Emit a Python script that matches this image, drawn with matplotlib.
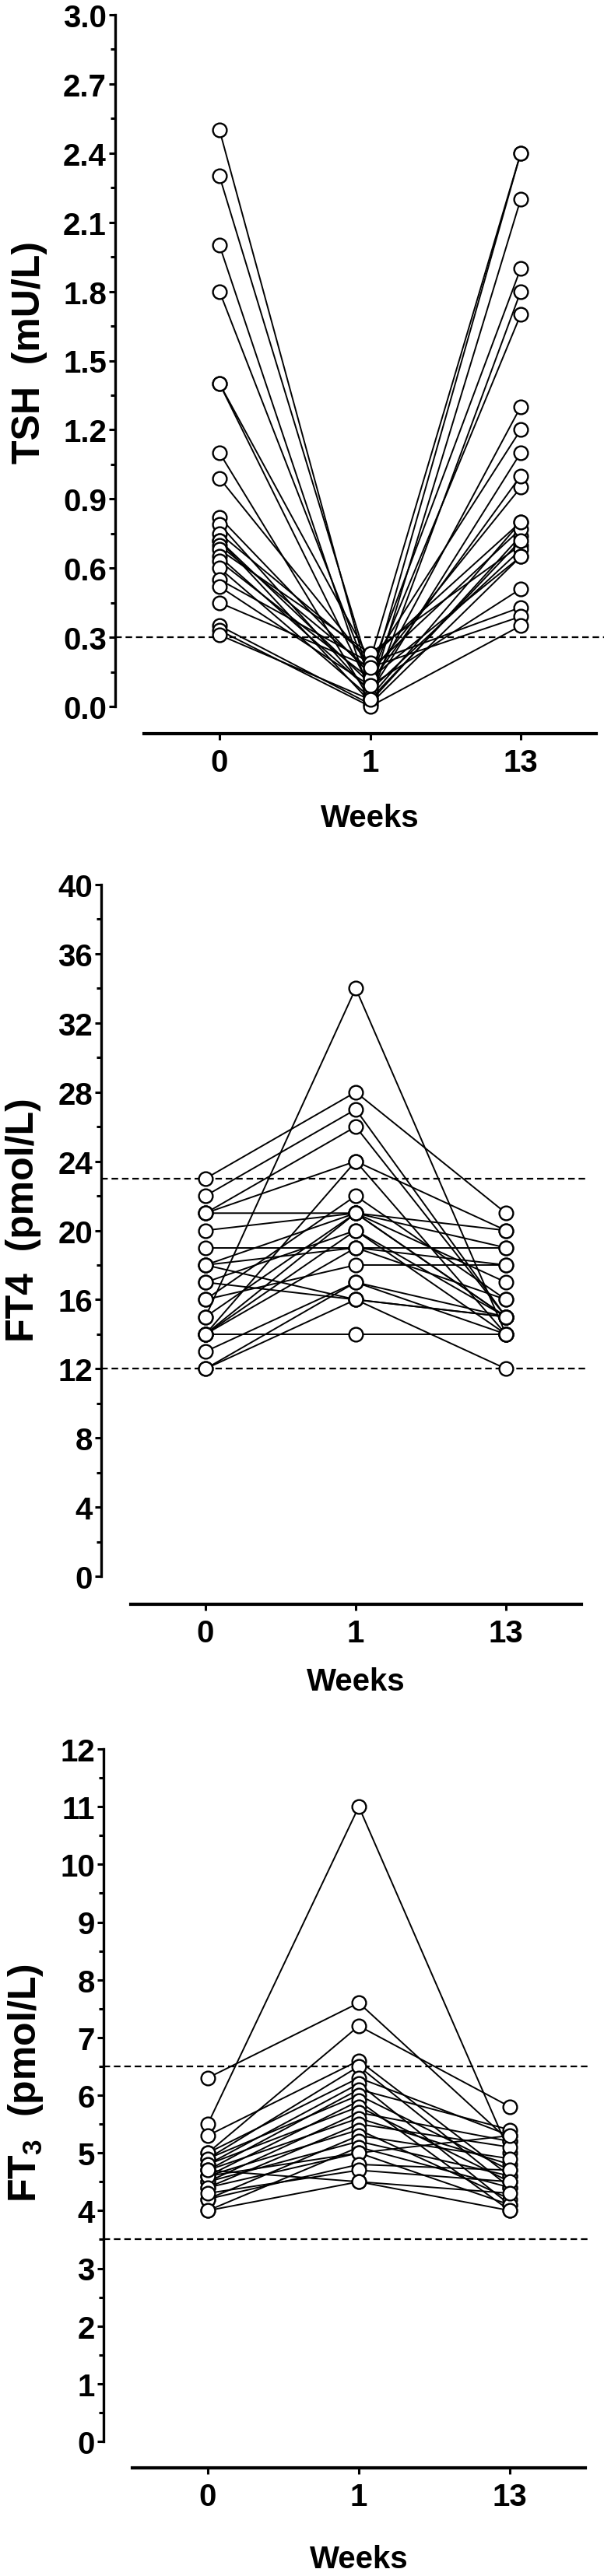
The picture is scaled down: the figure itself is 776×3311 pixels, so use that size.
import matplotlib
matplotlib.use("Agg")
import matplotlib.pyplot as plt
from matplotlib.ticker import MultipleLocator
from matplotlib.lines import Line2D

plt.rcParams['font.family'] = ['Liberation Sans', 'DejaVu Sans']
plt.rcParams['font.weight'] = 'bold'
plt.rcParams['mathtext.fontset'] = 'custom'
plt.rcParams['mathtext.rm'] = 'Liberation Sans'
plt.rcParams['mathtext.it'] = 'Liberation Sans:italic'
plt.rcParams['mathtext.bf'] = 'Liberation Sans:bold'

# ---------------- data ----------------
week_labels = ['0', '1', '13']

tsh_w0 = [2.50, 2.30, 2.00, 1.80, 1.40, 1.40, 1.10, 0.99, 0.82, 0.79, 0.75, 0.72,
          0.72, 0.70, 0.68, 0.65, 0.63, 0.60, 0.55, 0.52, 0.45, 0.35, 0.33, 0.31]
tsh_w1 = [0.10, 0.15, 0.05, 0.12, 0.20, 0.08, 0.03, 0.18, 0.14, 0.06, 0.21, 0.10,
          0.02, 0.16, 0.23, 0.07, 0.12, 0.04, 0.19, 0.09, 0.17, 0.01, 0.00, 0.03]
tsh_w13 = [2.40, 1.90, 2.20, 1.70, 2.40, 1.30, 1.80, 1.20, 0.95, 1.10, 0.80, 1.00,
           0.74, 0.77, 0.70, 0.68, 0.65, 0.80, 0.43, 0.51, 0.39, 0.65, 0.35, 0.72]

ft4_w0 = [23, 22, 21, 21, 14, 15, 21, 20, 19, 18, 18, 17,
          17, 16, 16, 15, 14, 14, 14, 13, 12, 12, 14, 18]
ft4_w1 = [28, 27, 26, 24, 24, 34, 21, 21, 19, 21, 19, 20,
          16, 22, 18, 21, 14, 20, 21, 17, 17, 16, 19, 16]
ft4_w13 = [21, 15, 15, 20, 14, 14, 19, 20, 19, 15, 18, 15,
           15, 16, 18, 17, 14, 14, 15, 15, 14, 12, 16, 15]

ft3_w0 = [5.5, 6.3, 5.0, 5.3, 4.9, 5.0, 4.8, 4.7, 4.9, 4.6, 4.8, 4.5,
          4.7, 4.4, 4.6, 4.2, 4.5, 4.0, 4.6, 4.4, 4.2, 4.3, 4.0, 4.7]
ft3_w1 = [11.0, 7.6, 7.2, 6.6, 6.5, 6.3, 6.2, 6.1, 6.0, 5.9, 5.8, 5.7,
          5.6, 5.5, 5.4, 5.3, 5.2, 5.1, 5.0, 5.0, 4.8, 4.7, 4.5, 4.5]
ft3_w13 = [5.0, 5.2, 5.8, 4.6, 4.4, 5.3, 4.1, 5.4, 4.7, 4.0, 4.5, 5.2,
           4.8, 5.1, 4.2, 4.9, 4.6, 4.4, 5.3, 4.1, 4.7, 4.5, 4.0, 4.3]

# ---------------- layout ----------------
W, H = 776, 3312
fig = plt.figure(figsize=(W / 100, H / 100), dpi=100)

TICK_FS = 29
LABEL_FS = 36


def make_panel(left, right, top_px, bottom_px, c0_px, c2_px, ytop, y0_px,
               ymajor, yminor, refs, ref_end_px, ylabel, ylab_x, ylab_y,
               weeks_y, w0, w1, w13):
    ax = fig.add_axes([left / W, 1 - bottom_px / H, (right - left) / W,
                       (bottom_px - top_px) / H])
    sx = (c2_px - c0_px) / 2.0
    xmin = (left - c0_px) / sx
    xmax = (right - c0_px) / sx
    sy = (y0_px - top_px) / ytop
    ymin = -(bottom_px - y0_px) / sy
    ax.set_xlim(xmin, xmax)
    ax.set_ylim(ymin, ytop)

    x_end = (ref_end_px - c0_px) / sx
    for r in refs:
        ax.add_line(Line2D([xmin, x_end], [r, r], color='black', lw=1.6,
                           ls=(0, (3.8, 2.2)), clip_on=False, zorder=1))

    xs = [0, 1, 2]
    for a, b, c in zip(w0, w1, w13):
        ax.plot(xs, [a, b, c], color='black', lw=1.4, zorder=2, clip_on=False)
    for a, b, c in zip(w0, w1, w13):
        ax.plot(xs, [a, b, c], ls='none', marker='o', ms=12.8, mfc='white',
                mec='black', mew=1.7, zorder=3, clip_on=False)

    for s in ('top', 'right'):
        ax.spines[s].set_visible(False)
    ax.spines['left'].set_bounds(0, ytop)
    ax.spines['bottom'].set_bounds(-0.5, 2.5)
    ax.spines['left'].set_linewidth(2.4)
    ax.spines['bottom'].set_linewidth(3.0)

    ax.yaxis.set_major_locator(MultipleLocator(ymajor))
    ax.yaxis.set_minor_locator(MultipleLocator(yminor))
    ax.set_xticks(xs)
    ax.set_xticklabels(week_labels)
    ax.tick_params(axis='y', which='major', direction='out', length=6,
                   width=2.2, pad=2, labelsize=TICK_FS)
    ax.tick_params(axis='y', which='minor', direction='out', length=4.5,
                   width=2.2)
    ax.tick_params(axis='x', which='major', direction='out', length=6,
                   width=2.2, pad=7, labelsize=TICK_FS)
    for lab in ax.get_xticklabels() + ax.get_yticklabels():
        lab.set_fontweight('bold')
    if ymajor < 1:
        ax.yaxis.set_major_formatter(plt.FuncFormatter(lambda v, p: f"{v:.1f}"))
    else:
        ax.yaxis.set_major_formatter(plt.FuncFormatter(lambda v, p: f"{v:.0f}"))

    fig.text(ylab_x / W, 1 - ylab_y / H, ylabel, rotation=90, ha='center',
             va='center', fontsize=LABEL_FS, fontweight='bold')
    fig.text((c0_px + c2_px) / 2 / W, 1 - weeks_y / H, 'Weeks', ha='center',
             va='center', fontsize=TICK_FS, fontweight='bold')
    return ax


make_panel(148, 766, 20, 944, 282, 669, 3.0, 909, 0.3, 0.15, [0.3], 776,
           'TSH  (mU/L)', 38, 453, 1052, tsh_w0, tsh_w1, tsh_w13)
make_panel(130, 747, 1138, 2063, 264, 650, 40, 2027, 4, 2, [12, 23], 754,
           'FT4  (pmol/L)', 30, 1568, 2162, ft4_w0, ft4_w1, ft4_w13)
make_panel(133, 751, 2249, 3173, 267, 655, 12, 3139, 1, 0.5, [3.5, 6.5], 756,
           r'FT$_\mathrm{3}$  (pmol/L)', 33, 2678, 3290, ft3_w0, ft3_w1, ft3_w13)

fig.savefig('out.png', dpi=100, facecolor='white')
